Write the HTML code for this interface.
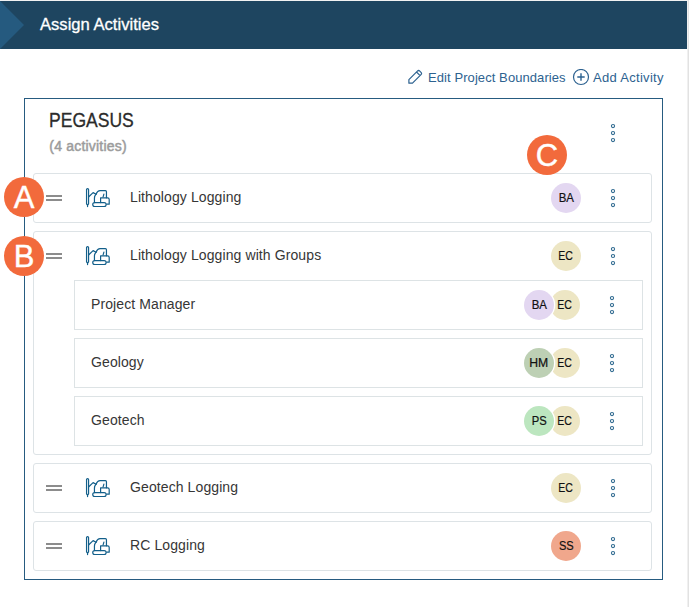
<!DOCTYPE html>
<html><head><meta charset="utf-8">
<style>
html,body{margin:0;padding:0;}
body{width:689px;height:607px;overflow:hidden;background:#fff;position:relative;font-family:"Liberation Sans",sans-serif;color:#333;}
.abs{position:absolute;}
#r0{left:0;top:0;width:687px;height:1px;background:#f2f2f2;}
#rs{left:687px;top:0;width:1px;height:607px;background:#f0f0f0;}
#rs2{left:688px;top:0;width:1px;height:607px;background:#e2e2e2;}
#hdr{left:0;top:1px;width:687px;height:48px;background:#1e4560;}
#title{left:40px;top:15px;font-size:16.6px;color:#fff;-webkit-text-stroke:0.3px #fff;line-height:20px;white-space:nowrap;}
.lnk{font-size:13px;color:#2d6290;line-height:16px;white-space:nowrap;}
#box{left:24px;top:98px;width:639px;height:482px;border:1px solid #265b80;box-sizing:border-box;}
#peg{left:49.4px;top:109.9px;font-size:20.2px;-webkit-text-stroke:0.3px #2b2b2b;color:#2b2b2b;line-height:20px;transform-origin:0 0;transform:scaleX(0.868);white-space:nowrap;}
#cnt{left:49.3px;top:138.7px;font-size:14px;-webkit-text-stroke:0.5px #9c9c9c;letter-spacing:0.2px;color:#9c9c9c;line-height:15px;white-space:nowrap;}
.card{position:absolute;border:1px solid #dde3e6;border-radius:3px;background:#fff;box-sizing:border-box;}
.sub{position:absolute;border:1px solid #dde3e5;background:#fff;box-sizing:border-box;}
.txt{position:absolute;font-size:14px;color:#363636;line-height:16px;white-space:nowrap;letter-spacing:0.1px;}
.drag{position:absolute;width:16px;height:2px;background:#8c8c8c;}
.av{position:absolute;width:30px;height:30px;border-radius:50%;font-size:12.4px;-webkit-text-stroke:0.2px #111;color:#111;text-align:center;line-height:30px;}
.av span{display:inline-block;}
.avw{box-shadow:0 0 0 1.3px #fff;}
.mark{position:absolute;width:40px;height:40px;border-radius:50%;background:#f26a3c;color:#fff;-webkit-text-stroke:0.4px #fff;font-size:31px;text-align:center;line-height:42.5px;}
</style></head><body>
<div id="r0" class="abs"></div><div id="rs" class="abs"></div><div id="rs2" class="abs"></div>
<div id="hdr" class="abs"></div>
<svg class="abs" style="left:0;top:1px" width="30" height="48"><polygon points="0,0 24,24 0,48" fill="#255a7f"/></svg>
<div id="title" class="abs">Assign Activities</div>
<svg class="abs" style="left:406px;top:68px" width="18" height="18" viewBox="0 0 18 18"><path d="M2.9 15.2 V11.6 L11.4 3.1 Q12.6 1.9 13.8 3.1 L15 4.3 Q16.2 5.5 15 6.7 L6.5 15.2 Z M10.5 4 L14.1 7.6" fill="none" stroke="#2d6290" stroke-width="1.2" stroke-linejoin="round"/></svg>
<div class="abs lnk" style="left:428px;top:70px;letter-spacing:0.08px">Edit Project Boundaries</div>
<svg class="abs" style="left:572px;top:69px" width="18" height="18" viewBox="0 0 18 18"><circle cx="9" cy="8" r="7.5" fill="none" stroke="#2d6290" stroke-width="1.2"/><path d="M9 4.3V11.7M5.3 8H12.7" stroke="#2d6290" stroke-width="1.4"/></svg>
<div class="abs lnk" style="left:593px;top:70px;letter-spacing:0.3px">Add Activity</div>
<div id="box" class="abs"></div>
<div id="peg" class="abs">PEGASUS</div>
<div id="cnt" class="abs">(4 activities)</div>
<div class="card" style="left:33px;top:173px;width:619px;height:50px"></div>
<div class="drag" style="left:46px;top:195px"></div><div class="drag" style="left:46px;top:199px"></div>
<svg class="abs" style="left:84px;top:186px" width="28" height="24" viewBox="0 0 28 24"><g fill="none" stroke="#135f8a" stroke-width="1.2" stroke-linejoin="round" stroke-linecap="round"><path d="M2.55 17.8 V3.56 A1.01 1.01 0 0 1 4.57 3.56 V17.8 L3.56 19.2 Z M3.56 19.2 V20.6"/><path d="M4.8 10.7 L9.1 6.6 L12 8.2"/><path d="M12 8.2 Q13.5 4.7 16 4.7 H21.4 Q22.45 4.7 22.45 5.8 V11.8"/><path d="M12 8.2 Q10.45 10 10.45 12 V16.6"/><path d="M16.6 16.6 V11.8 H23.6 Q25.2 11.8 25.2 13.4 V18.2 H22.8"/><path d="M19.1 10.8 L19.9 8.1"/><rect x="8.74" y="16.6" width="13.4" height="3.9" rx="1.95"/></g></svg>
<div class="txt" style="left:130px;top:189px">Lithology Logging</div>
<div class="av" style="left:551px;top:183px;background:#e3d7f1;z-index:1"><span style="transform:scaleX(0.924)">BA</span></div>
<svg class="abs" style="left:608px;top:188px" width="10" height="20" viewBox="0 0 10 20"><g fill="none" stroke="#2f6a90" stroke-width="1.05"><circle cx="5" cy="3" r="1.6"/><circle cx="5" cy="10" r="1.6"/><circle cx="5" cy="17" r="1.6"/></g></svg>
<div class="card" style="left:33px;top:231px;width:619px;height:224px"></div>
<div class="drag" style="left:46px;top:253px"></div><div class="drag" style="left:46px;top:257px"></div>
<svg class="abs" style="left:84px;top:244px" width="28" height="24" viewBox="0 0 28 24"><g fill="none" stroke="#135f8a" stroke-width="1.2" stroke-linejoin="round" stroke-linecap="round"><path d="M2.55 17.8 V3.56 A1.01 1.01 0 0 1 4.57 3.56 V17.8 L3.56 19.2 Z M3.56 19.2 V20.6"/><path d="M4.8 10.7 L9.1 6.6 L12 8.2"/><path d="M12 8.2 Q13.5 4.7 16 4.7 H21.4 Q22.45 4.7 22.45 5.8 V11.8"/><path d="M12 8.2 Q10.45 10 10.45 12 V16.6"/><path d="M16.6 16.6 V11.8 H23.6 Q25.2 11.8 25.2 13.4 V18.2 H22.8"/><path d="M19.1 10.8 L19.9 8.1"/><rect x="8.74" y="16.6" width="13.4" height="3.9" rx="1.95"/></g></svg>
<div class="txt" style="left:130px;top:247px">Lithology Logging with Groups</div>
<div class="av" style="left:551px;top:241px;background:#ede6c4;z-index:1"><span style="transform:scaleX(0.849)">EC</span></div>
<svg class="abs" style="left:608px;top:246px" width="10" height="20" viewBox="0 0 10 20"><g fill="none" stroke="#2f6a90" stroke-width="1.05"><circle cx="5" cy="3" r="1.6"/><circle cx="5" cy="10" r="1.6"/><circle cx="5" cy="17" r="1.6"/></g></svg>
<div class="card" style="left:33px;top:463px;width:619px;height:50px"></div>
<div class="drag" style="left:46px;top:485px"></div><div class="drag" style="left:46px;top:489px"></div>
<svg class="abs" style="left:84px;top:476px" width="28" height="24" viewBox="0 0 28 24"><g fill="none" stroke="#135f8a" stroke-width="1.2" stroke-linejoin="round" stroke-linecap="round"><path d="M2.55 17.8 V3.56 A1.01 1.01 0 0 1 4.57 3.56 V17.8 L3.56 19.2 Z M3.56 19.2 V20.6"/><path d="M4.8 10.7 L9.1 6.6 L12 8.2"/><path d="M12 8.2 Q13.5 4.7 16 4.7 H21.4 Q22.45 4.7 22.45 5.8 V11.8"/><path d="M12 8.2 Q10.45 10 10.45 12 V16.6"/><path d="M16.6 16.6 V11.8 H23.6 Q25.2 11.8 25.2 13.4 V18.2 H22.8"/><path d="M19.1 10.8 L19.9 8.1"/><rect x="8.74" y="16.6" width="13.4" height="3.9" rx="1.95"/></g></svg>
<div class="txt" style="left:130px;top:479px">Geotech Logging</div>
<div class="av" style="left:551px;top:473px;background:#ede6c4;z-index:1"><span style="transform:scaleX(0.849)">EC</span></div>
<svg class="abs" style="left:608px;top:478px" width="10" height="20" viewBox="0 0 10 20"><g fill="none" stroke="#2f6a90" stroke-width="1.05"><circle cx="5" cy="3" r="1.6"/><circle cx="5" cy="10" r="1.6"/><circle cx="5" cy="17" r="1.6"/></g></svg>
<div class="card" style="left:33px;top:521px;width:619px;height:50px"></div>
<div class="drag" style="left:46px;top:543px"></div><div class="drag" style="left:46px;top:547px"></div>
<svg class="abs" style="left:84px;top:534px" width="28" height="24" viewBox="0 0 28 24"><g fill="none" stroke="#135f8a" stroke-width="1.2" stroke-linejoin="round" stroke-linecap="round"><path d="M2.55 17.8 V3.56 A1.01 1.01 0 0 1 4.57 3.56 V17.8 L3.56 19.2 Z M3.56 19.2 V20.6"/><path d="M4.8 10.7 L9.1 6.6 L12 8.2"/><path d="M12 8.2 Q13.5 4.7 16 4.7 H21.4 Q22.45 4.7 22.45 5.8 V11.8"/><path d="M12 8.2 Q10.45 10 10.45 12 V16.6"/><path d="M16.6 16.6 V11.8 H23.6 Q25.2 11.8 25.2 13.4 V18.2 H22.8"/><path d="M19.1 10.8 L19.9 8.1"/><rect x="8.74" y="16.6" width="13.4" height="3.9" rx="1.95"/></g></svg>
<div class="txt" style="left:130px;top:537px">RC Logging</div>
<div class="av" style="left:551px;top:531px;background:#f0a78c;z-index:1"><span style="transform:scaleX(0.894)">SS</span></div>
<svg class="abs" style="left:608px;top:536px" width="10" height="20" viewBox="0 0 10 20"><g fill="none" stroke="#2f6a90" stroke-width="1.05"><circle cx="5" cy="3" r="1.6"/><circle cx="5" cy="10" r="1.6"/><circle cx="5" cy="17" r="1.6"/></g></svg>
<div class="sub" style="left:74px;top:280px;width:569px;height:50px"></div>
<div class="txt" style="left:91px;top:296px">Project Manager</div>
<div class="av" style="left:550px;top:290px;background:#ede6c4;z-index:1"><span style="transform:scaleX(0.849)">EC</span></div>
<div class="av avw" style="left:524px;top:290px;background:#e3d7f1;z-index:2"><span style="transform:scaleX(0.924)">BA</span></div>
<svg class="abs" style="left:607px;top:295px" width="10" height="20" viewBox="0 0 10 20"><g fill="none" stroke="#2f6a90" stroke-width="1.05"><circle cx="5" cy="3" r="1.6"/><circle cx="5" cy="10" r="1.6"/><circle cx="5" cy="17" r="1.6"/></g></svg>
<div class="sub" style="left:74px;top:338px;width:569px;height:50px"></div>
<div class="txt" style="left:91px;top:354px">Geology</div>
<div class="av" style="left:550px;top:348px;background:#ede6c4;z-index:1"><span style="transform:scaleX(0.849)">EC</span></div>
<div class="av avw" style="left:524px;top:348px;background:#bdd0b4;z-index:2"><span style="transform:scaleX(0.986)">HM</span></div>
<svg class="abs" style="left:607px;top:353px" width="10" height="20" viewBox="0 0 10 20"><g fill="none" stroke="#2f6a90" stroke-width="1.05"><circle cx="5" cy="3" r="1.6"/><circle cx="5" cy="10" r="1.6"/><circle cx="5" cy="17" r="1.6"/></g></svg>
<div class="sub" style="left:74px;top:396px;width:569px;height:50px"></div>
<div class="txt" style="left:91px;top:412px">Geotech</div>
<div class="av" style="left:550px;top:406px;background:#ede6c4;z-index:1"><span style="transform:scaleX(0.849)">EC</span></div>
<div class="av avw" style="left:524px;top:406px;background:#bce6bf;z-index:2"><span style="transform:scaleX(0.905)">PS</span></div>
<svg class="abs" style="left:607px;top:411px" width="10" height="20" viewBox="0 0 10 20"><g fill="none" stroke="#2f6a90" stroke-width="1.05"><circle cx="5" cy="3" r="1.6"/><circle cx="5" cy="10" r="1.6"/><circle cx="5" cy="17" r="1.6"/></g></svg>
<svg class="abs" style="left:608px;top:123px" width="10" height="20" viewBox="0 0 10 20"><g fill="none" stroke="#2f6a90" stroke-width="1.05"><circle cx="5" cy="3" r="1.6"/><circle cx="5" cy="10" r="1.6"/><circle cx="5" cy="17" r="1.6"/></g></svg>
<div class="mark" style="left:527px;top:135px">C</div>
<div class="mark" style="left:4px;top:177px">A</div>
<div class="mark" style="left:4px;top:236px">B</div>
</body></html>
